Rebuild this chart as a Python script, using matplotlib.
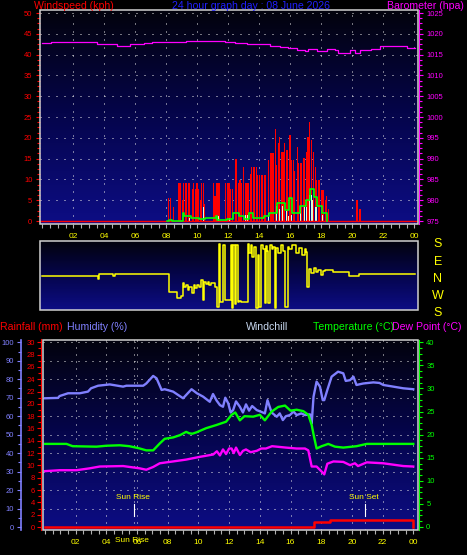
import numpy as np
import matplotlib
matplotlib.use('Agg')
import matplotlib.pyplot as plt
from matplotlib.ticker import MultipleLocator
from matplotlib.patches import Rectangle
from matplotlib.colors import LinearSegmentedColormap
import matplotlib.transforms as mtransforms

plt.rcParams['font.family'] = ['Liberation Sans', 'DejaVu Sans']

# ---------------- data ----------------
hour_ticks = [2, 4, 6, 8, 10, 12, 14, 16, 18, 20, 22, 24]
hour_labels = ['02', '04', '06', '08', '10', '12', '14', '16', '18', '20', '22', '00']

# wind gusts (kph)
gust_t = [8.16, 8.26, 8.46, 8.82, 8.92, 9.02, 9.12, 9.22, 9.32, 9.42, 9.52, 9.67, 9.77, 9.87, 9.98,
          10.08, 10.18, 10.28, 10.38, 10.43, 11.04, 11.14, 11.24, 11.34, 11.44, 11.84, 11.94, 12.05,
          12.15, 12.25, 12.45, 12.55, 12.65, 12.75, 12.85, 13.0, 13.11, 13.21, 13.31, 13.41, 13.51,
          13.61, 13.71, 13.81, 13.91, 14.01, 14.12, 14.22, 14.32, 14.42, 14.57, 14.72, 14.82, 14.92,
          15.02, 15.13, 15.23, 15.33, 15.43, 15.53, 15.63, 15.73, 15.83, 15.93, 15.98, 16.08, 16.19,
          16.29, 16.44, 16.54, 16.64, 16.74, 16.84, 16.94, 17.04, 17.14, 17.25, 17.35, 17.50, 17.60,
          17.70, 17.80, 17.90, 18.05, 18.15, 18.26, 18.36, 18.46, 20.3, 20.5]
gust_v = [5.5, 5.5, 3.4, 9.1, 9.1, 5.0, 9.1, 9.1, 9.1, 9.1, 9.1, 7.6, 9.1, 7.6, 9.1,
          7.6, 5.0, 9.1, 9.1, 4.2, 9.1, 6.0, 9.1, 9.1, 9.1, 9.1, 9.1, 9.1,
          7.8, 7.8, 14.8, 14.8, 9.1, 9.9, 9.1, 13.1, 9.1, 9.1, 9.1, 11.3, 13.1,
          13.1, 13.1, 13.1, 11.1, 11.1, 11.1, 11.1, 11.1, 11.1, 14.7, 16.3, 16.3, 16.3,
          22.0, 13.5, 18.7, 20.3, 16.7, 16.7, 18.7, 17.1, 17.1, 17.1, 20.7, 14.7, 14.7,
          12.0, 17.9, 13.9, 13.9, 13.9, 15.1, 15.1, 16.7, 20.3, 23.9, 19.5, 16.7, 13.1,
          9.9, 9.9, 9.9, 7.4, 7.4, 5.0, 6.0, 3.0, 5.0, 3.0]

# instantaneous wind speed (kph)
speed_t = [9.52, 10.38, 11.14, 11.34, 12.10, 13.11, 13.26, 14.37, 14.57, 15.13, 15.33, 15.48, 15.73,
           15.88, 16.08, 16.24, 16.64, 16.94, 17.04, 17.25, 17.35, 17.45, 17.60, 17.70, 18.05]
speed_v = [0.7, 3.3, 1.1, 1.1, 0.7, 1.5, 1.5, 1.9, 1.9, 3.5, 3.0, 3.5, 2.5,
           1.2, 1.5, 1.5, 3.5, 3.3, 3.3, 6.3, 6.3, 5.0, 3.3, 3.3, 1.5]

# average wind speed (kph)
avg_t = [8.06, 8.16, 8.26, 8.36, 9.07, 9.17, 9.37, 9.57, 9.98, 10.08, 10.38, 10.48, 11.09, 11.19,
         11.29, 11.49, 11.89, 12.20, 12.30, 12.60, 12.70, 13.0, 13.21, 13.31, 13.51, 13.61, 14.22,
         14.32, 14.52, 14.62, 15.02, 15.13, 15.53, 15.63, 15.83, 15.93, 16.03, 16.14, 16.54, 16.64,
         16.94, 17.04, 17.14, 17.25, 17.45, 17.55, 17.65, 17.75, 17.95, 18.05, 18.26, 18.36]
avg_v = [0, 0.3, 0.3, 0, 1.9, 1.1, 1.1, 0.7, 0.7, 0.4, 0.4, 0.7, 0.7, 1.1,
         0.2, 0.2, 0.4, 0.4, 2.0, 2.0, 1.1, 0.4, 0.4, 1.9, 1.9, 0.8, 0.8,
         1.3, 1.3, 1.9, 1.9, 4.3, 4.3, 2.7, 2.7, 5.5, 5.5, 1.9, 1.9, 3.5,
         3.5, 5.0, 5.0, 7.8, 7.8, 5.8, 5.8, 3.5, 3.5, 1.9, 1.9, 0]

# barometer (hPa)
baro_t = [0, 0.59, 3.01, 3.51, 4.83, 5.23, 5.63, 6.54, 7.05, 9.27, 10.58, 11.79, 12.40, 13.21, 14.01,
          14.72, 15.33, 15.83, 16.44, 16.94, 17.14, 17.45, 17.75, 18.36, 18.86, 19.06, 19.67, 19.87,
          20.17, 20.48, 21.18, 21.79, 22.60, 23.51, 24.05]
baro_v = [1017.7, 1018.0, 1018.0, 1017.5, 1017.1, 1017.1, 1017.5, 1017.8, 1018.1, 1018.3, 1018.3,
          1018.1, 1017.7, 1017.5, 1017.5, 1017.1, 1016.8, 1016.5, 1016.1, 1015.8, 1016.3, 1016.4,
          1015.9, 1016.3, 1016.0, 1015.3, 1015.4, 1016.0, 1015.5, 1016.0, 1016.3, 1017.0, 1017.0,
          1016.5, 1016.5]

# wind direction (deg, N=0, E=+90, W=-90, S=+/-180)
dir_t = [0.0, 3.59, 3.65, 4.57, 4.67, 8.2, 8.46, 8.66, 8.92, 9.07, 9.17, 9.27, 9.37, 9.47, 9.63,
         9.77, 9.87, 9.98, 10.08, 10.23, 10.38, 10.43, 10.53, 10.68, 10.78, 10.89, 11.14, 11.24,
         11.39, 11.47, 11.64, 11.79, 12.15, 12.22, 12.30, 12.40, 12.50, 12.60, 12.70, 12.85, 13.26,
         13.36, 13.46, 13.56, 13.66, 13.81, 13.89, 13.98, 14.09, 14.22, 14.34, 14.42, 14.52, 14.58,
         14.67, 14.82, 14.90, 15.01, 15.07, 15.23, 15.38, 15.53, 15.65, 15.83, 15.93, 16.14, 16.34,
         16.54, 16.74, 16.94, 17.02, 17.09, 17.20, 17.35, 17.50, 17.65, 17.80, 17.95, 18.10, 18.26,
         18.76, 19.77, 20.43, 21.69, 24.05]
dir_v = [0, -14, 16, 3, 16, -84, -88, -121, -110, -38, -60, -45, -75, -56, -93,
         -50, -65, -45, -60, -19, -130, -28, -40, -28, -50, -35, -56, -167,
         180, -140, 175, -130, 175, -176, 175, -150, 175, -140, -135, -140, 180,
         128, 175, 110, 165, -176, 120, -167, 175, 150, -149, 170, 140, -149,
         175, 150, 165, -176, 160, 128, 175, 140, -167, 166, 150, 175, 130,
         160, 120, 150, 138, -56, 40, 20, 45, 25, 35, 10, 30, 36,
         23, 3, 12, 16, 16]

# humidity (%)
hum_t = [0.0, 0.85, 0.95, 1.5, 2.26, 2.8, 3.0, 3.46, 4.22, 5.09, 5.3, 6.4, 6.6, 7.05, 7.27, 7.6, 7.8,
         8.35, 9.0, 9.55, 9.9, 10.3, 10.74, 10.95, 11.18, 11.4, 11.6, 11.75, 11.94, 12.1, 12.26, 12.45,
         12.7, 12.9, 13.1, 13.3, 13.5, 13.8, 14.05, 14.33, 14.5, 14.77, 15.1, 15.3, 15.5, 15.7, 15.96,
         16.2, 16.4, 16.7, 16.94, 17.27, 17.38, 17.5, 17.7, 17.92, 18.1, 18.2, 18.4, 18.68, 19.1,
         19.44, 19.6, 19.88, 20.1, 20.3, 20.74, 21.4, 21.8, 22.05, 22.7, 23.35, 24.0]
hum_v = [69.7, 69.9, 70.9, 72.4, 72.4, 73.3, 75.1, 76.5, 77.2, 76.0, 76.5, 76.5, 77.7, 81.8, 80.5,
         74.2, 74.6, 73.3, 69.7, 74.6, 72.4, 70.6, 67.8, 72.0, 68.5, 66.0, 65.1, 70.0, 67.0, 62.0,
         63.3, 68.0, 65.1, 62.0, 66.4, 63.0, 65.5, 63.3, 62.5, 61.5, 68.7, 62.0, 59.7, 61.5, 57.9,
         60.0, 60.6, 62.5, 60.6, 61.5, 60.6, 61.0, 56.1, 70.5, 78.7, 76.0, 68.7, 68.7, 74.2, 81.4,
         84.1, 83.2, 79.1, 79.5, 81.4, 76.9, 77.7, 78.3, 78.0, 76.9, 76.0, 75.1, 74.6]

# temperature (C)
temp_t = [0.0, 1.4, 1.8, 3.35, 4.0, 4.87, 5.5, 6.18, 6.6, 7.05, 7.48, 7.8, 8.35, 8.8, 9.2, 9.4, 9.6,
          9.87, 10.5, 11.18, 11.8, 12.16, 12.4, 12.7, 13.0, 13.57, 14.0, 14.33, 14.77, 15.2, 15.64,
          16.0, 16.4, 16.83, 17.16, 17.38, 17.53, 17.7, 18.03, 18.46, 18.9, 19.44, 20.3, 20.97, 24.0]
temp_v = [18.0, 18.0, 17.5, 17.4, 17.6, 17.7, 17.5, 17.0, 16.6, 16.6, 18.1, 19.1, 19.4, 19.9, 20.6,
          20.3, 20.2, 20.5, 21.4, 22.1, 22.8, 24.3, 24.8, 23.1, 24.0, 23.9, 24.3, 23.1, 25.0, 26.0,
          26.3, 25.2, 25.4, 25.1, 24.3, 22.1, 19.6, 17.0, 17.5, 18.0, 17.4, 17.2, 17.5, 18.0, 18.0]

# dew point (C)
dew_t = [0.0, 0.96, 2.05, 2.9, 3.57, 5.09, 6.18, 6.6, 7.05, 7.48, 8.35, 9.2, 10.1, 10.96, 11.2, 11.4,
         11.6, 11.8, 12.0, 12.16, 12.3, 12.45, 12.7, 12.9, 13.1, 13.4, 13.8, 14.1, 14.4, 14.8, 15.1,
         15.7, 16.4, 16.94, 17.16, 17.38, 17.7, 18.03, 18.2, 18.4, 18.8, 19.44, 19.88, 20.2, 20.4,
         20.97, 22.05, 23.35, 24.0]
dew_v = [12.1, 12.3, 12.3, 12.7, 13.1, 13.2, 12.7, 12.4, 13.0, 13.8, 14.2, 14.6, 15.2, 15.7, 16.4,
         15.5, 16.8, 15.8, 17.0, 17.0, 16.0, 17.2, 15.6, 16.5, 16.8, 16.2, 16.5, 17.0, 17.0, 17.5,
         17.4, 17.2, 17.0, 17.0, 16.6, 13.1, 13.1, 12.0, 11.4, 13.7, 14.2, 14.1, 13.4, 13.8, 13.2,
         14.0, 13.8, 13.2, 13.1]

# rainfall (mm)
rain_t = [0.0, 17.5, 18.57, 23.97, 24.0]
rain_v = [0.0, 0.8, 1.1, 1.1, 0.0]

sunrise_h = 5.81
sunset_h = 20.85

# ---------------- figure ----------------
W, H = 467, 555
fig = plt.figure(figsize=(W / 100, H / 100), dpi=100, facecolor='black')

BG = LinearSegmentedColormap.from_list('bg', [(0.01, 0.01, 0.05), (0.02, 0.02, 0.30), (0.05, 0.05, 0.52)])
FRAME = '#D0D0D0'
DOT = '#E8E8E8'
YEL = '#FFFF00'


def px_axes(x0, y0, x1, y1):
    return fig.add_axes([x0 / W, 1 - y1 / H, (x1 - x0) / W, (y1 - y0) / H])


def background(ax):
    grad = np.linspace(0, 1, 256).reshape(-1, 1)
    ax.imshow(grad, cmap=BG, extent=[0, 1, 0, 1], transform=ax.transAxes,
              aspect='auto', origin='upper', zorder=0)
    ax.set_facecolor('black')


def frame(ax):
    ax.add_patch(Rectangle((0, 0), 1, 1, transform=ax.transAxes, fill=False,
                           edgecolor=FRAME, lw=1.1, zorder=20, clip_on=False))


def hide_spines(ax):
    for s in ax.spines.values():
        s.set_visible(False)


def xticks(ax):
    ax.set_xticks(hour_ticks)
    ax.set_xticklabels(hour_labels)
    ax.xaxis.set_minor_locator(MultipleLocator(0.5))
    ax.tick_params(axis='x', which='both', colors='#B0B0B0', labelcolor=YEL,
                   labelsize=6, length=3, width=0.8, pad=3.5, direction='out')


def text_px(x, y, s, color, size=7.6, ha='left', va='center'):
    fig.text(x / W, 1 - y / H, s, color=color, fontsize=size, ha=ha, va=va)


# ---- top panel: wind + barometer ----
ax_w = px_axes(40, 10.3, 418, 224)
background(ax_w)
hide_spines(ax_w)
for yv in range(5, 51, 5):
    ax_w.axhline(yv, color=DOT, lw=0.72, ls=(0, (1, 7)), zorder=1)
for xv in hour_ticks:
    ax_w.axvline(xv, color=DOT, lw=0.72, ls=(0, (1, 7)), zorder=1)
ax_w.bar(gust_t, gust_v, width=0.075, color='#FF0000', linewidth=0, zorder=3)
ax_w.bar(speed_t, speed_v, width=0.06, color='#D8FFD8', linewidth=0, zorder=4)
ax_w.axhline(0, color='#FF0000', lw=1.0, zorder=5)
ax_w.plot(avg_t, avg_v, color='#00FF00', lw=1.2, drawstyle='steps-post', zorder=6)
ax_w.set_xlim(-0.15, 24.24)
ax_w.set_ylim(-0.72, 50.65)
ax_w.set_yticks(range(0, 51, 5))
ax_w.yaxis.set_minor_locator(MultipleLocator(1.25))
ax_w.tick_params(axis='y', which='both', colors='#FF0000', labelsize=5.5,
                 length=3, width=0.8, pad=2.5, direction='out')
ax_w.tick_params(axis='y', which='minor', length=2)
xticks(ax_w)

ax_b = ax_w.twinx()
hide_spines(ax_b)
ax_b.spines['right'].set_visible(True)
ax_b.spines['right'].set_color('#FF00FF')
ax_b.spines['right'].set_position(('axes', 1.0026))
ax_b.plot(baro_t, baro_v, color='#FF00FF', lw=0.9, drawstyle='steps-post', zorder=7)
ax_b.set_ylim(974.28, 1025.65)
ax_b.set_yticks(range(975, 1026, 5))
ax_b.yaxis.set_minor_locator(MultipleLocator(1.25))
ax_b.tick_params(axis='y', which='both', colors='#FF00FF', labelsize=5.5,
                 length=3, width=0.8, pad=2.5, direction='out')
ax_b.tick_params(axis='y', which='minor', length=2)
frame(ax_b)

# ---- direction panel ----
ax_d = px_axes(40, 241, 418, 310)
background(ax_d)
hide_spines(ax_d)
ax_d.plot(dir_t, dir_v, color=YEL, lw=1.1, drawstyle='steps-post', zorder=5)
ax_d.set_xlim(-0.15, 24.24)
ax_d.set_ylim(-186, 197)
ax_d.set_xticks([])
ax_d.set_yticks([])
frame(ax_d)
for lab, yp in zip(['S', 'E', 'N', 'W', 'S'], [244, 262, 279, 296, 313]):
    text_px(438, yp, lab, YEL, size=9, ha='center')

# ---- lower panel ----
ax_h = px_axes(42.7, 339.5, 417.7, 530)
background(ax_h)
hide_spines(ax_h)
for yv in range(10, 101, 10):
    ax_h.axhline(yv, color=DOT, lw=0.72, ls=(0, (1, 6)), zorder=1)
for xv in hour_ticks:
    ax_h.axvline(xv, color=DOT, lw=0.72, ls=(0, (1, 6)), zorder=1)
# sun rise / sun set markers
for sh, lab in [(sunrise_h, 'Sun Rise'), (sunset_h, 'Sun Set')]:
    ax_h.axvline(sh, color=DOT, lw=0.72, ls=(0, (1, 6)), zorder=1)
    ax_h.plot([sh, sh], [6.0, 12.5], color='white', lw=0.8, zorder=2)
    ax_h.text(sh - 0.09, 15.9, lab, color=YEL, fontsize=6, ha='center', va='center', zorder=3)
ax_h.plot(hum_t, hum_v, color='#8080FF', lw=1.7, zorder=4)
ax_h.set_xlim(-0.15, 24.29)
ax_h.set_ylim(-1.62, 101.52)
ax_h.spines['left'].set_visible(True)
ax_h.spines['left'].set_color('#8080FF')
ax_h.spines['left'].set_linewidth(1.2)
ax_h.spines['left'].set_position(('axes', -0.057))
ax_h.set_yticks(range(0, 101, 10))
ax_h.yaxis.set_minor_locator(MultipleLocator(5))
ax_h.tick_params(axis='y', which='both', colors='#8080FF', labelsize=5.5,
                 length=3, width=0.8, pad=2.2, direction='out')
ax_h.tick_params(axis='y', which='minor', length=2)
xticks(ax_h)
ax_h.text(5.69, -0.0525, 'Sun Rise', color=YEL, fontsize=6, ha='center', va='center',
          transform=mtransforms.blended_transform_factory(ax_h.transData, ax_h.transAxes))

ax_r = ax_h.twinx()
hide_spines(ax_r)
ax_r.yaxis.set_ticks_position('left')
ax_r.yaxis.set_label_position('left')
ax_r.spines['left'].set_visible(True)
ax_r.spines['left'].set_color('#FF0000')
ax_r.spines['left'].set_position(('axes', -0.0053))
ax_r.plot(rain_t, rain_v, color='#FF0000', lw=1.8, drawstyle='steps-post', zorder=4)
ax_r.set_ylim(-0.487, 30.456)
ax_r.set_yticks(range(0, 31, 2))
ax_r.yaxis.set_minor_locator(MultipleLocator(1))
ax_r.tick_params(axis='y', which='both', colors='#FF0000', labelsize=5.5,
                 length=3, width=0.8, pad=1.2, direction='out')
ax_r.tick_params(axis='y', which='minor', length=2)

ax_t = ax_h.twinx()
hide_spines(ax_t)
ax_t.spines['right'].set_visible(True)
ax_t.spines['right'].set_color('#00FF00')
ax_t.spines['right'].set_position(('axes', 1.0035))
ax_t.plot(dew_t, dew_v, color='#FF00FF', lw=1.7, zorder=4)
ax_t.plot(temp_t, temp_v, color='#00FF00', lw=1.7, zorder=5)
ax_t.set_ylim(-0.65, 40.61)
ax_t.set_yticks(range(0, 41, 5))
ax_t.yaxis.set_minor_locator(MultipleLocator(1.25))
ax_t.tick_params(axis='y', which='both', colors='#00FF00', labelsize=5.5,
                 length=3, width=0.8, pad=2.2, direction='out')
ax_t.tick_params(axis='y', which='minor', length=2)
frame(ax_t)

# ---- header texts ----
text_px(34, 6, 'Windspeed (kph)', '#FF0000')
text_px(251.5, 6, '24 hour graph day : 08 June 2026', '#2020FF', ha='center')
text_px(464, 6, 'Barometer (hpa)', '#FF00FF', ha='right')

text_px(0, 326.7, 'Rainfall (mm)', '#FF0000')
text_px(67, 326.7, 'Humidity (%)', '#8080FF')
text_px(246, 326.7, 'Windchill', '#C8D8F0')
text_px(313, 326.7, 'Temperature (°C)', '#00FF00')
text_px(392, 326.7, 'Dew Point (°C)', '#FF00FF')

fig.savefig('out.png', dpi=100, facecolor='black')
